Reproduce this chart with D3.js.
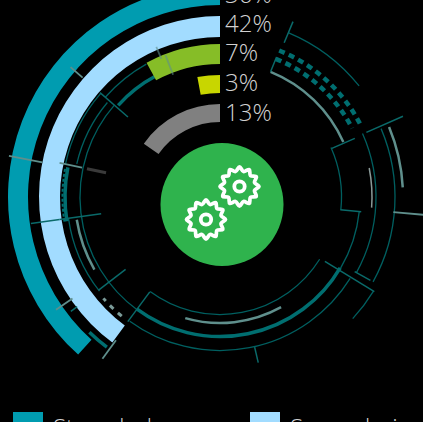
<!DOCTYPE html>
<html>
<head>
<meta charset="utf-8">
<script src="https://cdn.jsdelivr.net/npm/d3@7"></script>
<style>
    html, body { margin: 0; background: #000; overflow: hidden; }
    svg { display: block; }
    text { font-family: "Open Sans", sans-serif; font-weight: 300; fill: #d4d4d4; opacity: 0.99; }
</style>
</head>
<body>
<div id="graph-container"></div>
<script>
// DATA
const labels = ['36%', '42%', '7%', '3%', '13%']
const sweeps = [138, 143.5, 28.7, 10.7, 55] // degrees as drawn, counter clockwise from 12 o'clock
const legendNames = ['Stranded', 'Secondaries']

// ornament arcs: [radius, from deg, to deg], clockwise from 12 o'clock
const thinArcs = [
    [178, 22.7, 51.4], [121.5, 66, 96], [140, 96, 120.5], [140, 216, 311],
    [153.5, 122, 216], [117.5, 122, 216.5], [180, 121.5, 132.5],
    [156, 66, 119], [175, 67, 119], [153, 232, 262],
    [158, 282, 311], [147, 283, 310], [152, 311, 331]
]
const thickArcs = [[139.5, 120.5, 216.5], [137, 312, 332], [155, 261, 281], [188, 217, 224]]
const greyArcs = [[135, 22, 66], [183, 67.5, 87], [145, 240, 261], [126, 151, 196]]
const faintArcs = [[152, 79, 94]]
const dottedArcs = [[158, 22, 63], [149, 22, 62.5]]
const edgeDots = [[157.5, 261, 281]]
const greyDashes = [[154.5, 219.5, 229]]

// ornament spokes: [angle deg, from radius, to radius]
const tealSpokes = [
    [22.6, 167, 190], [22, 135, 151], [66.5, 122, 147], [96, 121, 142], [311, 122, 159],
    [262, 120, 162], [262, 162, 191], [232.5, 119, 153], [232.5, 180, 188], [216.5, 118, 155],
    [121.5, 123, 181], [167, 154, 170], [119, 154, 172], [66.2, 160, 200]
]
const greySpokes = [[281, 181, 215], [282, 141, 164], [311, 182, 198], [235.5, 179, 199], [216, 177, 200], [95, 174, 205]]
const overGreenSpokes = [[337, 150, 163], [339, 131, 152]]
const darkSpokes = [[282, 116.5, 136]]

// SETTINGS
const settings = {
    width: 423,
    height: 422,
    center: { x: 220, y: 197 },
    rings: [[192, 212], [160, 181], [133, 153], [104, 122], [75, 93]],
    colors: ['#009cb0', '#a2dcff', '#86bd27', '#c8d600', '#808080'],
    teal: '#005f60',
    tealBright: '#006e70',
    grey: '#5f8f8c',
    labelBaselines: [3, 32, 61, 91, 120.5],
    gears: [{ x: 239.5, y: 186.5 }, { x: 206, y: 219.5 }]
}

const svg = d3.select('#graph-container').append('svg')
    .attr('width', settings.width)
    .attr('height', settings.height)

const chartGroup = svg.append('g')
    .attr('transform', `translate(${settings.center.x}, ${settings.center.y})`)

const angle = d3.scaleLinear().domain([0, 360]).range([0, 2 * Math.PI])
const barArc = d3.arc()

// GRAPH FUNCTIONS
function drawArcs(rows, width, color, dash) {
    chartGroup.append('g').selectAll('path')
        .data(rows)
        .enter().append('path')
        .attr('d', d => {
            const p = d3.path()
            p.arc(0, 0, d[0], angle(d[1]) - Math.PI / 2, angle(d[2]) - Math.PI / 2)
            return p.toString()
        })
        .attr('fill', 'none')
        .attr('stroke', color)
        .attr('stroke-width', width)
        .attr('stroke-dasharray', dash || null)
}

function drawSpokes(rows, width, color, opacity) {
    chartGroup.append('g').selectAll('line')
        .data(rows)
        .enter().append('line')
        .attr('x1', d => d[1] * Math.sin(angle(d[0])))
        .attr('y1', d => -d[1] * Math.cos(angle(d[0])))
        .attr('x2', d => d[2] * Math.sin(angle(d[0])))
        .attr('y2', d => -d[2] * Math.cos(angle(d[0])))
        .attr('stroke', color)
        .attr('stroke-width', width)
        .attr('opacity', opacity || 1)
}

drawArcs(thinArcs, 1.3, settings.teal)
drawArcs(thickArcs, 3.5, settings.tealBright)
drawArcs(greyArcs, 2.5, settings.grey)
drawArcs(faintArcs, 1.5, '#8a9a98')
drawArcs(dottedArcs, 4.5, settings.tealBright, '6 4.5')
drawArcs(edgeDots, 2, settings.tealBright, '3 2')
drawArcs(greyDashes, 3, '#7a9a98', '5 6')

// the real bars
chartGroup.append('g').selectAll('path')
    .data(sweeps)
    .enter().append('path')
    .attr('d', (d, i) => barArc({
        innerRadius: settings.rings[i][0],
        outerRadius: settings.rings[i][1],
        startAngle: angle(-d),
        endAngle: 0
    }))
    .attr('fill', (d, i) => settings.colors[i])

drawSpokes(tealSpokes, 1.5, '#0a6a6a')
drawSpokes(greySpokes, 1.8, settings.grey)
drawSpokes(overGreenSpokes, 1.8, settings.grey, 0.6)
drawSpokes(darkSpokes, 3, '#3a3a3a')

svg.append('g').selectAll('text')
    .data(labels)
    .enter().append('text')
    .attr('x', 225)
    .attr('y', (d, i) => settings.labelBaselines[i])
    .attr('font-size', 24)
    .text(d => d)

// centre disc
svg.append('circle')
    .attr('cx', 222)
    .attr('cy', 204.5)
    .attr('r', 61.5)
    .attr('fill', '#2fb34d')

// gear icons
const gearLine = d3.lineRadial()
    .angle((d, i) => i * Math.PI / 12)
    .radius(d => d)
    .curve(d3.curveCardinalClosed)
const gearOutline = d3.range(24).map(i => i % 2 ? 15.5 : 19.5)

const gear = svg.append('g').selectAll('g')
    .data(settings.gears)
    .enter().append('g')
    .attr('transform', d => `translate(${d.x}, ${d.y})`)
gear.append('path')
    .attr('d', gearLine(gearOutline))
    .attr('fill', 'none')
    .attr('stroke', '#fff')
    .attr('stroke-width', 3.8)
gear.append('circle')
    .attr('r', 5.2)
    .attr('fill', 'none')
    .attr('stroke', '#fff')
    .attr('stroke-width', 3.8)

// LEGEND
const legend = svg.append('g').selectAll('g')
    .data(legendNames)
    .enter().append('g')
    .attr('transform', (d, i) => `translate(${[13, 250][i]}, 412)`)
legend.append('rect')
    .attr('width', 30)
    .attr('height', 30)
    .attr('fill', (d, i) => settings.colors[i])
legend.append('text')
    .attr('x', 40)
    .attr('y', 24)
    .attr('font-size', 24)
    .text(d => d)
</script>
</body>
</html>
